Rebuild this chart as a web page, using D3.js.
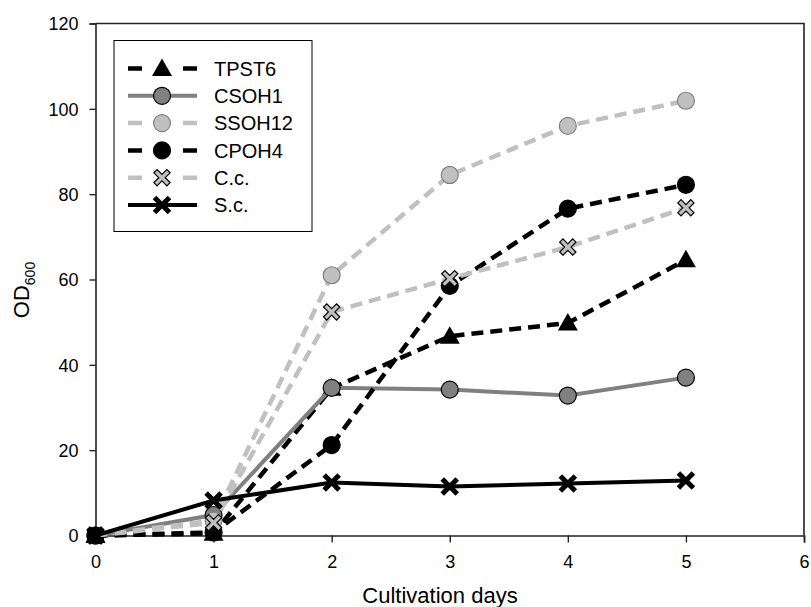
<!DOCTYPE html>
<html>
<head>
<meta charset="utf-8">
<script src="https://cdn.jsdelivr.net/npm/d3@7"></script>
<style>
  html, body { margin: 0; padding: 0; background: #fff; }
  #chart { width: 811px; height: 607px; }
  text { font-family: "Liberation Sans", Arial, sans-serif; fill: #000; }
</style>
</head>
<body>
<div id="chart"></div>
<script>
// OD600 growth curves

const days = [0, 1, 2, 3, 4, 5];
const xTicks = [0, 1, 2, 3, 4, 5, 6];
const yTicks = [0, 20, 40, 60, 80, 100, 120];

const tpst6  = [0, 0.5, 34.5, 46.7, 49.8, 64.6];
const csoh1  = [0, 4.8, 34.6, 34.2, 32.8, 37.0];
const ssoh12 = [0, 3.5, 61.0, 84.5, 96.0, 101.9];
const cpoh4  = [0, 0.7, 21.2, 58.5, 76.6, 82.2];
const cc     = [0, 3.0, 52.4, 60.2, 67.6, 76.8];
const sc     = [0, 8.2, 12.4, 11.5, 12.2, 12.9];

const seriesNames = ["TPST6", "CSOH1", "SSOH12", "CPOH4", "C.c.", "S.c."];
const seriesValues = [tpst6, csoh1, ssoh12, cpoh4, cc, sc];

// styling per series (line + marker)
const styles = [
    { stroke: "#000000", dash: "12,7", marker: "triangle", fill: "#000000", mstroke: "#000000" },
    { stroke: "#808080", dash: null,   marker: "circle",   fill: "#808080", mstroke: "#000000" },
    { stroke: "#c0c0c0", dash: "12,7", marker: "circle",   fill: "#c0c0c0", mstroke: "#808080" },
    { stroke: "#000000", dash: "12,7", marker: "circle",   fill: "#000000", mstroke: "#000000" },
    { stroke: "#c0c0c0", dash: "12,7", marker: "xOutline", fill: "#c0c0c0", mstroke: "#000000" },
    { stroke: "#000000", dash: null,   marker: "x",        fill: "#000000", mstroke: "#000000" }
];

// outlined X shape (rotated plus polygon)
function xPolygon(a, b) {
    const pts = [[a,b],[a,a],[b,a],[b,-a],[a,-a],[a,-b],[-a,-b],[-a,-a],[-b,-a],[-b,a],[-a,a],[-a,b]];
    const c = Math.SQRT1_2;
    return "M" + pts.map(p => [(p[0] - p[1]) * c, (p[0] + p[1]) * c].map(v => v.toFixed(2)).join(",")).join("L") + "Z";
}

function drawMarker(g, st, cx, cy) {
    if (st.marker === "circle") {
        g.append("circle").attr("cx", cx).attr("cy", cy).attr("r", 8.5)
            .attr("fill", st.fill).attr("stroke", st.mstroke).attr("stroke-width", 1.2);
    } else if (st.marker === "triangle") {
        g.append("path")
            .attr("transform", `translate(${cx},${cy})`)
            .attr("d", "M0,-10L10,7.5L-10,7.5Z")
            .attr("fill", st.fill);
    } else if (st.marker === "xOutline") {
        g.append("path")
            .attr("transform", `translate(${cx},${cy})`)
            .attr("d", xPolygon(2.3, 9.2))
            .attr("fill", st.fill).attr("stroke", st.mstroke).attr("stroke-width", 1.2);
    } else {
        g.append("path")
            .attr("transform", `translate(${cx},${cy})`)
            .attr("d", "M-7.5,-7.5L7.5,7.5M-7.5,7.5L7.5,-7.5")
            .attr("stroke", st.fill).attr("stroke-width", 5).attr("fill", "none");
    }
}

function drawChart() {
    const width = 811, height = 607;
    const margin = { top: 23.5, right: 7, bottom: 71.5, left: 95.5 };
    const innerWidth = width - margin.left - margin.right;
    const innerHeight = height - margin.top - margin.bottom;

    const svg = d3.select("#chart").append("svg")
        .attr("width", width).attr("height", height);

    const g = svg.append("g").attr("transform", `translate(${margin.left},${margin.top})`);

    const x = d3.scaleLinear().domain([0, 6]).range([0, innerWidth]);
    const y = d3.scaleLinear().domain([0, 120]).range([innerHeight, 0]);

    // frame (top + right)
    g.append("path")
        .attr("d", `M0,0H${innerWidth}V${innerHeight}`)
        .attr("fill", "none").attr("stroke", "#222").attr("stroke-width", 1.6);

    // axes
    const yAxis = g.append("g")
        .call(d3.axisLeft(y).tickValues(yTicks).tickFormat(d3.format("d")).tickSize(6).tickPadding(11));
    const xAxis = g.append("g")
        .attr("transform", `translate(0,${innerHeight})`)
        .call(d3.axisBottom(x).tickValues(xTicks).tickFormat(d3.format("d")).tickSize(7).tickPadding(13));

    [yAxis, xAxis].forEach(ax => {
        ax.select(".domain").attr("stroke", "#222").attr("stroke-width", 1.6);
        ax.selectAll(".tick line").attr("stroke", "#222").attr("stroke-width", 1.4);
        ax.selectAll(".tick text")
            .style("font-family", '"Liberation Sans", Arial, sans-serif')
            .style("font-size", "18px").attr("fill", "#000");
    });
    yAxis.selectAll(".tick text").attr("dy", "0.35em");

    // axis titles
    svg.append("text")
        .attr("x", 440).attr("y", 603)
        .attr("text-anchor", "middle")
        .style("font-size", "22px")
        .text("Cultivation days");

    const yTitle = svg.append("text")
        .attr("transform", "translate(29,290) rotate(-90)")
        .attr("text-anchor", "middle")
        .style("font-size", "22px");
    yTitle.append("tspan").text("OD");
    yTitle.append("tspan").attr("dy", 6).style("font-size", "14px").text("600");

    // lines + markers
    const line = d3.line().x((d, i) => x(days[i])).y(d => y(d));

    seriesValues.forEach((vals, si) => {
        const st = styles[si];
        const sg = g.append("g").attr("class", "series");
        sg.append("path")
            .datum(vals)
            .attr("d", line)
            .attr("fill", "none")
            .attr("stroke", st.stroke)
            .attr("stroke-width", st.dash ? 4.5 : 4)
            .attr("stroke-dasharray", st.dash);
        vals.forEach((v, i) => drawMarker(sg, st, x(days[i]), y(v)));
    });

    // legend
    const legend = svg.append("g").attr("transform", "translate(114,40.5)");
    legend.append("rect")
        .attr("width", 198).attr("height", 191)
        .attr("fill", "#fff").attr("stroke", "#000").attr("stroke-width", 1);

    seriesNames.forEach((name, i) => {
        const st = styles[i];
        const ly = 28 + i * 27.3;
        const row = legend.append("g");
        row.append("line")
            .attr("x1", 14).attr("x2", 83).attr("y1", ly).attr("y2", ly)
            .attr("stroke", st.stroke)
            .attr("stroke-width", st.dash ? 4.5 : 4)
            // dashed samples show only one short dash on each side of the marker
            .attr("stroke-dasharray", st.dash ? "14,41,14" : null);
        drawMarker(row, st, 48, ly);
        row.append("text")
            .attr("x", 100).attr("y", ly).attr("dy", "0.36em")
            .style("font-size", "20px")
            .text(name);
    });
}

drawChart();
</script>
</body>
</html>
